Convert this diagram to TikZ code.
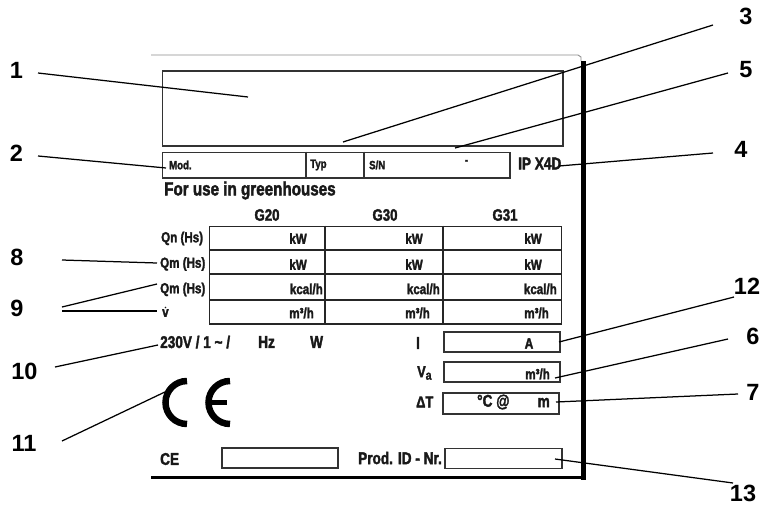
\documentclass[tikz,border=0pt]{standalone}
\usepackage{fontspec}
\setmainfont{Liberation Sans}
\newfontfamily\condf[FakeStretch=0.8,FakeBold=2]{Liberation Sans Bold}
\newcommand{\fs}[1]{\fontsize{#1}{#1}\selectfont}
\begin{document}
\begin{tikzpicture}[x=1pt,y=-1pt,
  plate/.style={draw=black!80,line width=1.6pt},
  grid/.style={draw=black!85,line width=1.4pt},
  leader/.style={draw=black,line width=1.25pt},
  num/.style={font=\fs{23.5}\bfseries,inner sep=0pt,text=black},
  lab/.style={font=\condf\fs{14.5},inner sep=0pt,text=black!90},
  small/.style={font=\condf\fs{12},inner sep=0pt,text=black!90},
  big/.style={font=\condf\fs{19},inner sep=0pt,text=black!90},
  mid/.style={font=\condf\fs{17},inner sep=0pt,text=black!90}]
\useasboundingbox (0,0) rectangle (762,506);
% outer plate
\draw[black!45,line width=0.9pt,line join=round] (151,55) -- (578,55) -- (581,57) -- (581,61);
\draw[black,line width=5pt] (583,61) -- (583,479.5);
\draw[black,line width=3.6pt] (151,477.5) -- (585.5,477.5);
% top boxes
\node[plate,minimum width=400.5pt,minimum height=75pt,anchor=north west,inner sep=0pt] (name) at (161.5,70) {};
\node[plate,minimum width=347.5pt,minimum height=25.5pt,anchor=north west,inner sep=0pt] (rowbox) at (161.5,151.5) {};
\draw[plate] (305.7,151.5) -- (305.7,177);
\draw[plate] (364,151.5) -- (364,177);
\node[small,anchor=west] (mod) at (169,165) {Mod.};
\node[small,anchor=west] (typ) at (310,165) {Typ};
\node[small,anchor=west] (sn) at (369,165) {S/N};
\node[small] (dash) at (466.5,162) {-};
\node[mid,anchor=west] (ip) at (518,163.5) {IP X4D};
\node[big,anchor=west] (green) at (164,190.5) {For use in greenhouses};
% gas table
\node[mid,font=\condf\fs{16.5}] (g20) at (267,215) {G20};
\node[mid,font=\condf\fs{16.5}] (g30) at (385,215) {G30};
\node[mid,font=\condf\fs{16.5}] (g31) at (505,215) {G31};
\node[grid,minimum width=352pt,minimum height=97.5pt,anchor=north west,inner sep=0pt] (table) at (209,225.7) {};
\draw[grid] (325,225.7) -- (325,323.2);
\draw[grid] (443,225.7) -- (443,323.2);
\draw[grid] (209,250) -- (561,250);
\draw[grid] (209,274) -- (561,274);
\draw[grid] (209,300) -- (561,300);
\node[lab,anchor=west] (qn) at (161,238.5) {Qn (Hs)};
\node[lab,anchor=west] (qma) at (160,264) {Qm (Hs)};
\node[lab,anchor=west] (qmb) at (160,289.5) {Qm (Hs)};
\node[lab,anchor=west] (vdot) at (162,313) {v};
\fill[black!90] (vdot.north) ++(0,-1.5) circle (0.9pt);
\node[lab,anchor=east] (k1) at (307,238.5) {kW};
\node[lab,anchor=east] (k2) at (423,238.5) {kW};
\node[lab,anchor=east] (k3) at (542,238.5) {kW};
\node[lab,anchor=east] (k4) at (307,264.5) {kW};
\node[lab,anchor=east] (k5) at (423,264.5) {kW};
\node[lab,anchor=east] (k6) at (542,264.5) {kW};
\node[lab,anchor=east] (c1) at (323,289) {kcal/h};
\node[lab,anchor=east] (c2) at (440,289) {kcal/h};
\node[lab,anchor=east] (c3) at (557,289) {kcal/h};
\node[lab,anchor=east] (m1) at (314,313) {m³/h};
\node[lab,anchor=east] (m2) at (430,313) {m³/h};
\node[lab,anchor=east] (m3) at (549,313) {m³/h};
% electrical line
\node[mid,anchor=west] (volt) at (160,342) {230V / 1 \symbol{"7E} /};
\node[mid,anchor=west] (hz) at (258,342) {Hz};
\node[mid,anchor=west] (watt) at (310,342) {W};
\node[mid] (ilab) at (418,343) {I};
\node[mid,font=\condf\fs{16},anchor=west] (va) at (417,373) {V\raisebox{-2.5pt}{\fs{13}a}};
\node[mid,font=\condf\fs{16},anchor=west] (dt) at (416,402) {ΔT};
% right boxes
\node[plate,minimum width=116pt,minimum height=20pt,anchor=north west,inner sep=0pt] (ibox) at (443,331) {};
\node[plate,minimum width=116pt,minimum height=20pt,anchor=north west,inner sep=0pt] (vbox) at (443,361) {};
\node[plate,minimum width=116pt,minimum height=21pt,anchor=north west,inner sep=0pt] (tbox) at (442,392) {};
\node[mid,font=\condf\fs{15}] (amp) at (529,343.5) {A};
\node[lab,anchor=east] (mh) at (550,374) {m³/h};
\node[mid,anchor=west] (deg) at (477,402) {°C @};
\node[mid,anchor=east] (mtr) at (550,402.5) {m};
% CE mark
\draw[black,line width=6.5pt] (187,424) arc[start angle=90,end angle=270,radius=21.5];
\draw[black,line width=6.5pt] (230,424) arc[start angle=90,end angle=270,radius=21.5];
\draw[black,line width=4.5pt] (209,402.5) -- (227,402.5);
% bottom
\node[mid,anchor=west] (ce) at (160,459) {CE};
\node[plate,minimum width=116pt,minimum height=20pt,anchor=north west,inner sep=0pt] (cebox) at (221,447) {};
\node[mid,anchor=west] (prod) at (358,458) {Prod. ID - Nr.};
\node[plate,minimum width=117pt,minimum height=20pt,anchor=north west,inner sep=0pt] (pbox) at (444,447.5) {};
% numbers
\node[num] (n1) at (16.5,70) {1};
\node[num] (n2) at (16.5,153) {2};
\node[num] (n3) at (746,16) {3};
\node[num] (n4) at (741,149) {4};
\node[num] (n5) at (746,70) {5};
\node[num] (n6) at (753,336) {6};
\node[num] (n7) at (753,392) {7};
\node[num] (n8) at (17,257) {8};
\node[num] (n9) at (17,308) {9};
\node[num] (n10) at (24.5,371) {10};
\node[num] (n11) at (24,443) {11};
\node[num] (n12) at (747,286) {12};
\node[num] (n13) at (743,493.5) {13};
% leader ends
\coordinate (a1) at (38,73);   \coordinate (b1) at (248,97);
\coordinate (a2) at (38,156);  \coordinate (b2) at (166,168);
\coordinate (a3) at (713,25);  \coordinate (b3) at (343,142);
\coordinate (a4) at (713,153); \coordinate (b4) at (559,166);
\coordinate (a5) at (728,73);  \coordinate (b5) at (455,148);
\coordinate (a6) at (728,339); \coordinate (b6) at (555,378);
\coordinate (a7) at (738,394); \coordinate (b7) at (556,402);
\coordinate (a8) at (62,260);  \coordinate (b8) at (157,263);
\coordinate (a9) at (62,307);  \coordinate (b9) at (157,284);
\coordinate (c9) at (62,311);  \coordinate (d9) at (157,311);
\coordinate (a10) at (55,367); \coordinate (b10) at (158,345);
\coordinate (a11) at (62,441); \coordinate (b11) at (167,391);
\coordinate (a12) at (734,297);\coordinate (b12) at (559,342);
\coordinate (a13) at (733,483);\coordinate (b13) at (555,459);
\foreach \p/\q in {a1/b1,a2/b2,a3/b3,a4/b4,a5/b5,a6/b6,a7/b7,a8/b8,a9/b9,c9/d9,a10/b10,a11/b11,a12/b12,a13/b13}
  \draw[leader] (\p) -- (\q);
\end{tikzpicture}
\end{document}
